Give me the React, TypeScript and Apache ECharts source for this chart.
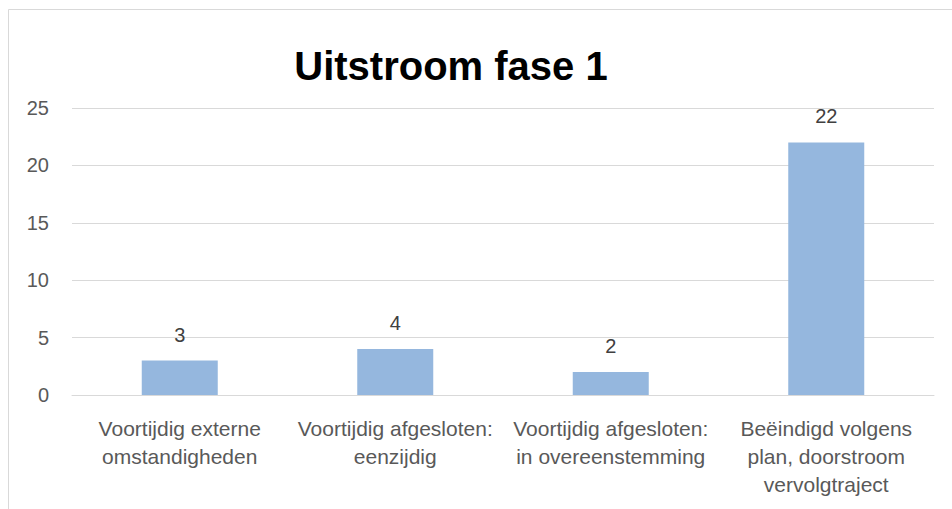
import React, { useEffect, useRef } from "react";
import * as echarts from "echarts";

const categories = [
  "Voortijdig externe\nomstandigheden",
  "Voortijdig afgesloten:\neenzijdig",
  "Voortijdig afgesloten:\nin overeenstemming",
  "Beëindigd volgens\nplan, doorstroom\nvervolgtraject",
];
const values = [3, 4, 2, 22];
const titleText = "Uitstroom fase 1";

const FONT = "'Liberation Sans', Arial, sans-serif";

export default function App() {
  const ref = useRef<HTMLDivElement>(null);
  useEffect(() => {
    if (!ref.current) return;
    const chart = echarts.init(ref.current, undefined, { renderer: "svg" });
    chart.setOption({
      animation: false,
      backgroundColor: "#ffffff",
      graphic: [
        {
          type: "rect",
          shape: { x: 8.5, y: 9.5, width: 980, height: 560 },
          style: { fill: "none", stroke: "#d9d9d9", lineWidth: 1 },
          silent: true,
        },
        {
          type: "text",
          x: 451,
          y: 66,
          style: {
            text: titleText,
            font: `bold 40px ${FONT}`,
            fill: "#000000",
            textAlign: "center",
            textVerticalAlign: "middle",
          },
        },
      ],
      grid: { left: 72, right: 18, top: 108, bottom: 114 },
      xAxis: {
        type: "category",
        data: categories,
        axisLine: { show: true, lineStyle: { color: "#d9d9d9", width: 1 } },
        axisTick: { show: false },
        axisLabel: {
          interval: 0,
          margin: 19,
          color: "#595959",
          fontFamily: FONT,
          fontSize: 21,
          lineHeight: 28,
          align: "center",
        },
      },
      yAxis: {
        type: "value",
        min: 0,
        max: 25,
        interval: 5,
        axisLine: { show: false },
        axisTick: { show: false },
        splitLine: { lineStyle: { color: "#d9d9d9", width: 1 } },
        axisLabel: {
          margin: 23,
          color: "#595959",
          fontFamily: FONT,
          fontSize: 20,
        },
      },
      series: [
        {
          type: "bar",
          data: values,
          barWidth: 76,
          itemStyle: { color: "#95b7de" },
          label: {
            show: true,
            position: "top",
            distance: 16,
            color: "#404040",
            fontFamily: FONT,
            fontSize: 20,
          },
        },
      ],
    });
    return () => chart.dispose();
  }, []);
  return (
    <div
      ref={ref}
      style={{ position: "fixed", left: 0, top: 0, width: 952, height: 509 }}
    />
  );
}
